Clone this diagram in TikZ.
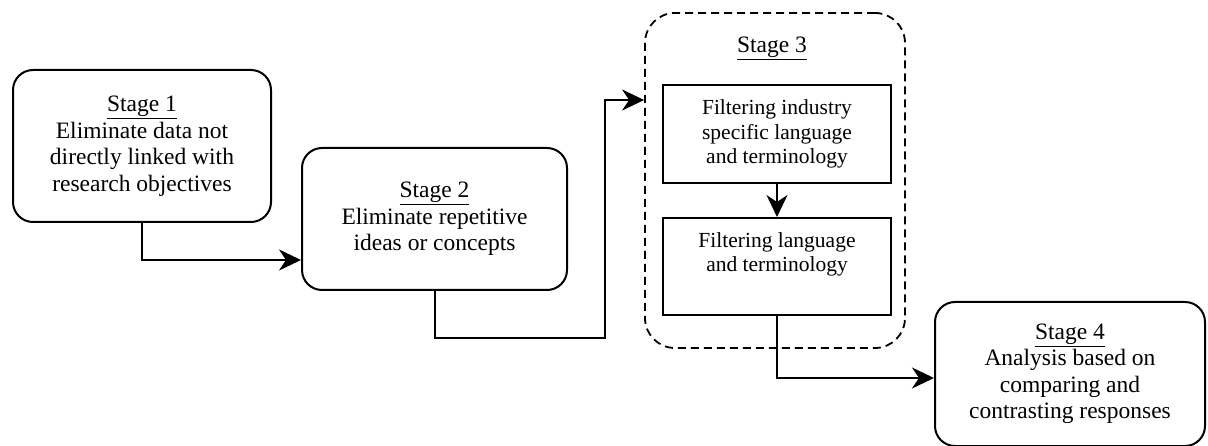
\documentclass[tikz,border=0pt]{standalone}
\usepackage{fontspec}
\setmainfont{Liberation Serif}
\usetikzlibrary{arrows.meta}
\tikzset{
  stagebox/.style={draw, line width=2pt, rounded corners=20pt, align=center,
    font=\fontsize{23.5}{26.5}\selectfont, inner sep=0pt},
  innerbox/.style={draw, line width=2pt, align=center,
    font=\fontsize{21.5}{24.5}\selectfont, inner sep=0pt,
    minimum width=228pt, minimum height=97pt},
  groupbox/.style={draw, dashed, dash pattern=on 8pt off 5pt, line width=1.8pt,
    rounded corners=30pt, inner sep=0pt, minimum width=260pt, minimum height=335pt},
  conn/.style={line width=2pt, -{Stealth[length=22pt,width=21pt,inset=7pt]}},
  lbl/.style={font=\fontsize{23.5}{26.5}\selectfont, inner sep=0pt}
}
\begin{document}
\begin{tikzpicture}[x=1pt,y=-1pt]
\useasboundingbox (0,0) rectangle (1208,446);
\node[stagebox, minimum width=258pt, minimum height=152pt] (s1) at (142,146)
  {\underline{Stage 1}\\Eliminate data not\\directly linked with\\research objectives};
\node[stagebox, minimum width=265pt, minimum height=142pt] (s2) at (434.5,219)
  {\underline{Stage 2}\\Eliminate repetitive\\ideas or concepts};
\node[groupbox] (s3) at (775,180.5) {};
\node[lbl] (s3l) at (772,48) {\underline{Stage 3}};
\node[innerbox, minimum height=98pt] (i1) at (777,134)
  {Filtering industry\\specific language\\and terminology};
\node[innerbox] (i2) at (777,266.5)
  {Filtering language\\and terminology\\[4pt]};
\node[stagebox, minimum width=270pt, minimum height=144pt] (s4) at (1070,374)
  {\underline{Stage 4}\\Analysis based on\\comparing and\\contrasting responses};
\coordinate (b1) at (605,338);
\draw[conn] (s1.south) |- ([yshift=-41pt]s2.west);
\draw[conn] (s2.south) |- (b1) |- ([yshift=80.5pt]s3.west);
\draw[conn] (i1.south) -- (i2.north);
\draw[conn] (i2.south) |- ([yshift=-4pt]s4.west);
\end{tikzpicture}
\end{document}
